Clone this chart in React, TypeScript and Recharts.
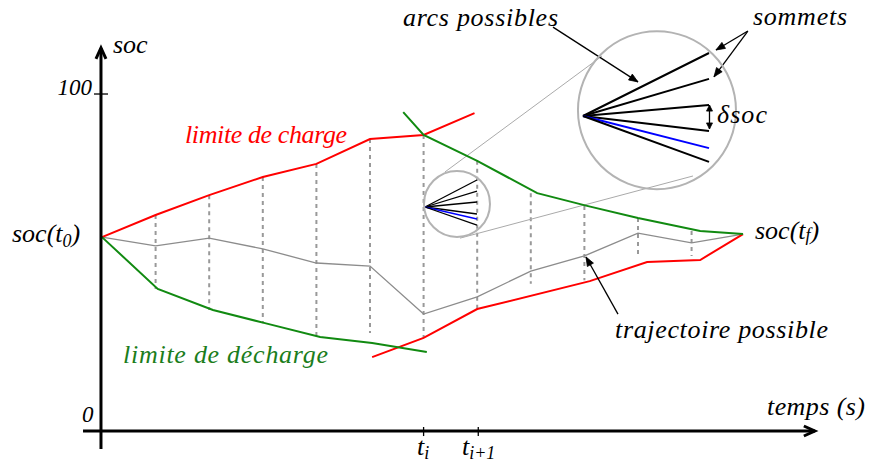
import React from "react";
import { LineChart, Line, XAxis, YAxis, ReferenceLine, ReferenceDot } from "recharts";

// time steps (t0 = 0, tf ~ 12) and state of charge (%)
const chargeT = [0, 1, 2, 3, 4, 5, 6, 6.95];
const chargeSoc = [57.4, 64.0, 69.9, 75.3, 79.2, 86.6, 87.8, 94.3];

const chargeBackT = [5.04, 6, 7, 9.1, 10.17, 11.16, 11.96];
const chargeBackSoc = [21.7, 27.4, 36.0, 44.3, 50.0, 50.6, 58.3];

const dischargeT = [0, 1.04, 2.07, 3.04, 4.07, 5.04, 6.06];
const dischargeSoc = [57.4, 42.0, 35.7, 31.8, 27.7, 25.9, 23.2];

const dischargeBackT = [5.62, 6, 7, 8.12, 9.05, 10, 11.16, 11.96];
const dischargeBackSoc = [94.6, 87.8, 80.1, 70.5, 66.7, 63.1, 59.2, 58.3];

const trajT = [0, 1, 2, 3, 4, 5, 6, 7, 8, 9, 10, 11, 11.96];
const trajSoc = [57.4, 54.8, 57.1, 53.9, 49.7, 48.8, 34.5, 39.6, 47.3, 51.8, 58.6, 55.7, 58.3];

// dashed time steps: top / bottom of the admissible band
const stepT = [1, 2, 3, 4, 5, 6, 7, 8, 9, 10, 11];
const stepTop = [64.0, 69.9, 75.3, 79.2, 86.6, 87.8, 80.1, 70.5, 66.7, 63.1, 59.2];
const stepBottom = [42.0, 35.7, 31.8, 27.7, 28.9, 27.4, 36.0, 43.5, 44.6, 51.8, 51.8];

// zoom fans (arcs from one vertex to the next-step vertices)
const smallFanFrom = { t: 6.026, soc: 66.37 };
const smallFanToT = 6.996;
const smallFanSoc = [74.4, 71.13, 67.86, 64.29, 62.8, 61.01];
const bigFanFrom = { t: 8.974, soc: 93.45 };
const bigFanToT = 11.325;
const bigFanSoc = [112.2, 104.5, 96.7, 89.0, 83.9, 79.8];
const fanHighlight = 4;

const X_DOMAIN = [-1.903, 14.31];
const Y_DOMAIN = [-10.12, 127.98];

const zip = (ts: number[], ss: number[]) => ts.map((t, i) => ({ t, soc: ss[i] }));

const RED = "#ff0000";
const GREEN = "#118a11";
const GREEN_TXT = "#1b7d1b";
const FONT = "Liberation Serif";

function head(x: number, y: number, a: number, L: number, W: number) {
  const bx = x - L * Math.cos(a);
  const by = y - L * Math.sin(a);
  const px = W * Math.sin(a);
  const py = -W * Math.cos(a);
  return `${bx + px},${by + py} ${x},${y} ${bx - px},${by - py}`;
}

const arrow = (opts: { w?: number; L?: number; W?: number; both?: boolean; open?: boolean }) => (p: any) => {
  const { x1, y1, x2, y2 } = p;
  const a = Math.atan2(y2 - y1, x2 - x1);
  const L = opts.L ?? 9;
  const W = opts.W ?? 3.5;
  const w = opts.w ?? 1.3;
  const hp = (x: number, y: number, ang: number) =>
    opts.open ? (
      <polyline points={head(x, y, ang, L, W)} fill="none" stroke="#000" strokeWidth={w} />
    ) : (
      <polygon points={head(x, y, ang, L, W)} fill="#000" stroke="#000" strokeWidth={0.8} />
    );
  return (
    <g>
      <line x1={x1} y1={y1} x2={x2} y2={y2} stroke="#000" strokeWidth={w} />
      {hp(x2, y2, a)}
      {opts.both && hp(x1, y1, a + Math.PI)}
    </g>
  );
};

const label = (content: React.ReactNode, color = "#000", size = 26, anchor = "start", len?: number) => (p: any) => (
  <text
    x={p.cx}
    y={p.cy}
    fill={color}
    textAnchor={anchor}
    textLength={len}
    lengthAdjust={len ? "spacing" : undefined}
    style={{ fontFamily: FONT, fontStyle: "italic", fontSize: size }}
  >
    {content}
  </text>
);

const sub = (s: string, dy: number) => (
  <tspan dy={dy} style={{ fontSize: 18 }}>
    {s}
  </tspan>
);

const seg = (a: [number, number], b: [number, number]) => [
  { x: a[0], y: a[1] },
  { x: b[0], y: b[1] },
];

const lineProps = { type: "linear" as const, dot: false, activeDot: false, isAnimationActive: false };

export default function App() {
  return (
    <div style={{ position: "absolute", left: 0, top: 0, width: 869, height: 464, background: "#fff" }}>
      <LineChart width={869} height={464} margin={{ top: 0, right: 0, bottom: 0, left: 0 }}>
        <XAxis type="number" dataKey="t" domain={X_DOMAIN} hide allowDataOverflow />
        <YAxis type="number" dataKey="soc" domain={Y_DOMAIN} hide allowDataOverflow width={0} />

        {stepT.map((t, i) => (
          <ReferenceLine
            key={"s" + t}
            segment={seg([t, stepTop[i]], [t, stepBottom[i]])}
            stroke="#999"
            strokeWidth={2}
            strokeDasharray="4 4"
            ifOverflow="visible"
          />
        ))}

        {/* zoom connectors and circles */}
        <ReferenceLine segment={seg([6.399, 76.8], [9.328, 111.3])} stroke="#aaa" strokeWidth={1} ifOverflow="visible" />
        <ReferenceLine segment={seg([6.679, 57.1], [11.026, 75.6])} stroke="#aaa" strokeWidth={1} ifOverflow="visible" />
        <ReferenceDot x={6.623} y={67.3} r={33} fill="none" stroke="#b3b3b3" strokeWidth={2} ifOverflow="visible" />
        <ReferenceDot x={10.354} y={95.2} r={79} fill="none" stroke="#b3b3b3" strokeWidth={2} ifOverflow="visible" />

        {smallFanSoc.map((s, i) => (
          <ReferenceLine
            key={"f" + i}
            segment={seg([smallFanFrom.t, smallFanFrom.soc], [smallFanToT, s])}
            stroke={i === fanHighlight ? "#0000ff" : "#000"}
            strokeWidth={1.3}
            ifOverflow="visible"
          />
        ))}
        {bigFanSoc.map((s, i) => (
          <ReferenceLine
            key={"F" + i}
            segment={seg([bigFanFrom.t, bigFanFrom.soc], [bigFanToT, s])}
            stroke={i === fanHighlight ? "#0000ff" : "#000"}
            strokeWidth={2}
            ifOverflow="visible"
          />
        ))}

        <Line data={zip(trajT, trajSoc)} dataKey="soc" stroke="#8c8c8c" strokeWidth={1.3} {...lineProps} />
        <Line data={zip(chargeT, chargeSoc)} dataKey="soc" stroke={RED} strokeWidth={2} {...lineProps} />
        <Line data={zip(chargeBackT, chargeBackSoc)} dataKey="soc" stroke={RED} strokeWidth={2} {...lineProps} />
        <Line data={zip(dischargeT, dischargeSoc)} dataKey="soc" stroke={GREEN} strokeWidth={2} {...lineProps} />
        <Line data={zip(dischargeBackT, dischargeBackSoc)} dataKey="soc" stroke={GREEN} strokeWidth={2} {...lineProps} />

        {/* axes */}
        <ReferenceLine segment={seg([-0.019, -5.65], [-0.019, 113.7])} shape={arrow({ w: 3, L: 11, W: 5, open: true })} ifOverflow="visible" />
        <ReferenceLine segment={seg([-0.354, -0.3], [13.3, -0.3])} shape={arrow({ w: 3, L: 11, W: 5, open: true })} ifOverflow="visible" />
        <ReferenceLine segment={seg([-0.15, 100], [0.112, 100])} stroke="#000" strokeWidth={1.3} ifOverflow="visible" />
        <ReferenceLine segment={seg([6.0, 0.9], [6.0, -1.8])} stroke="#000" strokeWidth={1.3} ifOverflow="visible" />
        <ReferenceLine segment={seg([7.02, 0.9], [7.02, -1.8])} stroke="#000" strokeWidth={1.3} ifOverflow="visible" />

        {/* annotation arrows */}
        <ReferenceLine segment={seg([8.414, 119.9], [10.0, 103.6])} shape={arrow({})} ifOverflow="visible" />
        <ReferenceLine segment={seg([12.05, 118.75], [11.455, 113.1])} shape={arrow({})} ifOverflow="visible" />
        <ReferenceLine segment={seg([12.05, 118.75], [11.418, 105.1])} shape={arrow({})} ifOverflow="visible" />
        <ReferenceLine segment={seg([11.334, 96.7], [11.334, 89.6])} shape={arrow({ both: true, L: 6, W: 3 })} ifOverflow="visible" />
        <ReferenceLine segment={seg([9.627, 34.5], [9.03, 51.5])} shape={arrow({})} ifOverflow="visible" />

        {/* texts */}
        <ReferenceDot x={0.205} y={112.2} ifOverflow="visible" shape={label("soc")} />
        <ReferenceDot x={-0.187} y={99.7} ifOverflow="visible" shape={label("100", "#000", 23, "end")} />
        <ReferenceDot x={-0.373} y={2.4} ifOverflow="visible" shape={label("0", "#000", 23)} />
        <ReferenceDot
          x={-1.679}
          y={56.0}
          ifOverflow="visible"
          shape={label(
            <>
              soc(t{sub("0", 5)}
              <tspan dy={-5}>)</tspan>
            </>
          )}
        />
        <ReferenceDot
          x={12.183}
          y={56.8}
          ifOverflow="visible"
          shape={label(
            <>
              soc(t{sub("f", 2)}
              <tspan dy={-2}>)</tspan>
            </>
          )}
        />
        <ReferenceDot x={1.549} y={85.4} ifOverflow="visible" shape={label("limite de charge", RED, 26, "start", 162)} />
        <ReferenceDot x={0.392} y={19.9} ifOverflow="visible" shape={label("limite de décharge", GREEN_TXT, 26, "start", 205)} />
        <ReferenceDot x={5.616} y={120.2} ifOverflow="visible" shape={label("arcs possibles", "#000", 26, "start", 155)} />
        <ReferenceDot x={12.146} y={120.5} ifOverflow="visible" shape={label("sommets", "#000", 26, "start", 94)} />
        <ReferenceDot x={11.474} y={91.4} ifOverflow="visible" shape={label("δsoc", "#000", 26, "start", 50)} />
        <ReferenceDot x={9.571} y={27.4} ifOverflow="visible" shape={label("trajectoire possible", "#000", 26, "start", 213)} />
        <ReferenceDot x={12.407} y={4.5} ifOverflow="visible" shape={label("temps (s)", "#000", 26, "start", 98)} />
        <ReferenceDot x={5.877} y={-7.4} ifOverflow="visible" shape={label(<>t{sub("i", 4)}</>)} />
        <ReferenceDot x={6.716} y={-7.4} ifOverflow="visible" shape={label(<>t{sub("i+1", 4)}</>)} />
      </LineChart>
    </div>
  );
}
